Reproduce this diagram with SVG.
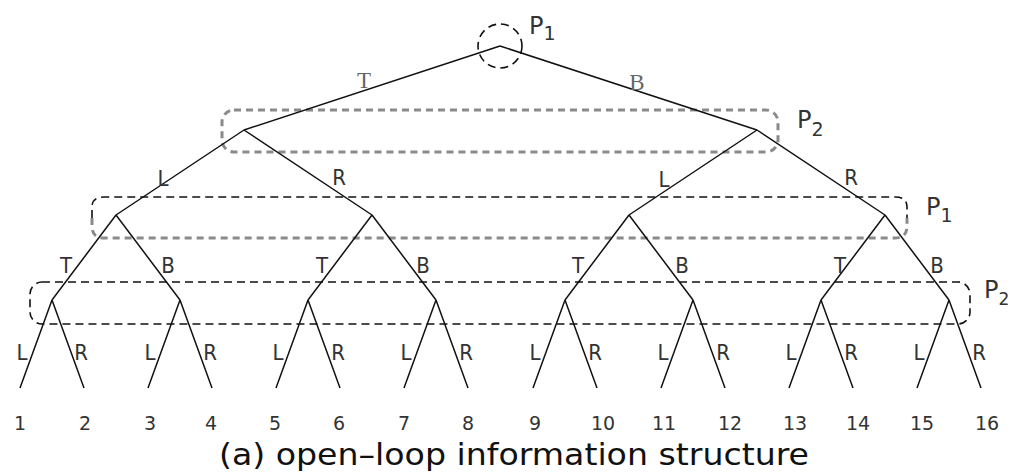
<svg xmlns="http://www.w3.org/2000/svg" width="1015" height="474" viewBox="0 0 1015 474">
<style>
.e{stroke:#111;stroke-width:1.5;fill:none}
.db{stroke:#111;stroke-width:1.6;fill:none;stroke-dasharray:8 5}
.dg{stroke:#8a8a8a;stroke-width:3;fill:none;stroke-dasharray:7 5}
.lb{font-family:"DejaVu Sans","Liberation Sans",sans-serif;font-stretch:condensed;font-size:22px;fill:#333;text-anchor:middle}
.ls{font-family:"Liberation Serif","DejaVu Serif",serif;font-size:23px;fill:#666;text-anchor:middle}
.p{font-family:"DejaVu Sans","Liberation Sans",sans-serif;font-size:24px;fill:#333}
.ps{font-size:19px}
.n{font-family:"DejaVu Sans","Liberation Sans",sans-serif;font-size:19px;fill:#333;text-anchor:middle}
.t{font-family:"DejaVu Sans","Liberation Sans",sans-serif;font-size:30px;fill:#111}
</style>
<rect width="1015" height="474" fill="#fff"/>
<g id="info-sets">
<circle cx="500" cy="46" r="22" class="db"/>
<rect x="222" y="110" width="556" height="42" rx="12" class="dg"/>
<path d="M92,218 V207 Q92,197 104,197 H895 Q907,197 907,207 V218" class="db"/>
<path d="M92,218 V226 Q92,238 104,238 H895 Q907,238 907,226 V218" class="dg"/>
<rect x="30" y="282" width="940" height="42" rx="12" class="db"/>
</g>
<g id="connectors">
<path class="e" d="M500,46 L244,130 M500,46 L757,130
M244,130 L116,215 M244,130 L372,215 M757,130 L629,215 M757,130 L885,215
M116,215 L52,300 M116,215 L180,300 M372,215 L308,300 M372,215 L436,300
M629,215 L565,300 M629,215 L693,300 M885,215 L821,300 M885,215 L949,300
M52,300 L20,388 M52,300 L84,388 M180,300 L148,388 M180,300 L212,388
M308,300 L276,388 M308,300 L340,388 M436,300 L404,388 M436,300 L468,388
M565,300 L533,388 M565,300 L597,388 M693,300 L661,388 M693,300 L725,388
M821,300 L789,388 M821,300 L853,388 M949,300 L917,388 M949,300 L981,388"/>
</g>
<g id="edge-labels">
<text class="ls" x="364" y="88">T</text>
<text class="ls" x="637" y="90">B</text>
<text class="lb" x="163" y="186">L</text>
<text class="lb" x="339" y="185">R</text>
<text class="lb" x="664" y="187">L</text>
<text class="lb" x="851" y="185">R</text>
<text class="lb" x="66" y="273">T</text>
<text class="lb" x="168" y="273">B</text>
<text class="lb" x="322" y="273">T</text>
<text class="lb" x="423" y="273">B</text>
<text class="lb" x="578" y="273">T</text>
<text class="lb" x="682" y="273">B</text>
<text class="lb" x="840" y="273">T</text>
<text class="lb" x="937" y="273">B</text>
<text class="lb" x="22" y="360">L</text>
<text class="lb" x="81" y="360">R</text>
<text class="lb" x="150" y="360">L</text>
<text class="lb" x="210" y="360">R</text>
<text class="lb" x="278" y="360">L</text>
<text class="lb" x="338" y="360">R</text>
<text class="lb" x="406" y="360">L</text>
<text class="lb" x="466" y="360">R</text>
<text class="lb" x="535" y="360">L</text>
<text class="lb" x="595" y="360">R</text>
<text class="lb" x="663" y="360">L</text>
<text class="lb" x="723" y="360">R</text>
<text class="lb" x="791" y="360">L</text>
<text class="lb" x="851" y="360">R</text>
<text class="lb" x="919" y="360">L</text>
<text class="lb" x="979" y="360">R</text>
</g>
<g id="player-labels">
<text class="p" x="529" y="34">P<tspan class="ps" dy="6">1</tspan></text>
<text class="p" x="797" y="128">P<tspan class="ps" dy="8">2</tspan></text>
<text class="p" x="926" y="215">P<tspan class="ps" dy="7">1</tspan></text>
<text class="p" x="984" y="298">P<tspan class="ps" dy="7" style="font-size:17px">2</tspan></text>
</g>
<g id="leaves">
<text class="n" x="20" y="430">1</text>
<text class="n" x="85" y="430">2</text>
<text class="n" x="150" y="430">3</text>
<text class="n" x="211" y="430">4</text>
<text class="n" x="275" y="430">5</text>
<text class="n" x="339" y="430">6</text>
<text class="n" x="404" y="430">7</text>
<text class="n" x="468" y="430">8</text>
<text class="n" x="535" y="430">9</text>
<text class="n" x="603" y="430">10</text>
<text class="n" x="664" y="430">11</text>
<text class="n" x="730" y="430">12</text>
<text class="n" x="795" y="430">13</text>
<text class="n" x="858" y="430">14</text>
<text class="n" x="922" y="430">15</text>
<text class="n" x="987" y="430">16</text>
</g>
<text id="caption" class="t" x="219" y="465" textLength="590" lengthAdjust="spacingAndGlyphs">(a) open–loop information structure</text>
</svg>
